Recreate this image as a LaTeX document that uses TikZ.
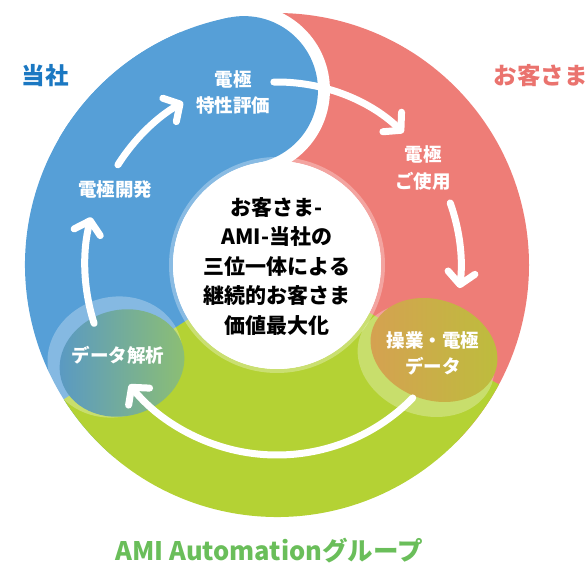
\documentclass[tikz,border=0pt]{standalone}
\usepackage{fontspec}
\newfontfamily\jp{Noto Sans CJK JP}
\usetikzlibrary{arrows.meta,calc}
\definecolor{cblue}{RGB}{86,159,215}
\definecolor{cred}{RGB}{238,125,119}
\definecolor{cgreen}{RGB}{180,210,52}
\definecolor{tblue}{RGB}{27,120,194}
\definecolor{tred}{RGB}{234,115,110}
\definecolor{tgreen}{RGB}{106,190,90}
\definecolor{dleft}{RGB}{88,152,198}
\definecolor{dright}{RGB}{142,192,112}
\definecolor{oleft}{RGB}{214,160,82}
\definecolor{oright}{RGB}{188,190,60}
\begin{document}
\begin{tikzpicture}[x=1pt,y=1pt,
  band/.style={line width=148pt},
  arr/.style={white, line width=7pt, line cap=round, -{Straight Barb[length=12pt,width=27pt,round]}},
  wlabel/.style={text=white, align=center, font=\jp\bfseries\fontsize{18.5}{26.5}\selectfont},
  clabel/.style={align=center, font=\jp\bfseries\fontsize{21}{29.5}\selectfont},
  glabel/.style={font=\jp\bfseries\fontsize{23.5}{28}\selectfont},
]
\useasboundingbox (0,0) rectangle (586,563);
\coordinate (C) at (277,298);
% bands
\draw[cblue, band] (C) ++(100.7:178) arc[start angle=100.7, end angle=230, radius=178];
\draw[cred, band] (C) ++(-45:178) arc[start angle=-45, end angle=100.7, radius=178];
\draw[cgreen, band] (C) ++(212:178) arc[start angle=212, end angle=332, radius=178];
% blue cap with white border over red
\fill[white] (C) ++(100.7:178) circle[radius=86];
\draw[cblue, band] (C) ++(100.7:178) arc[start angle=100.7, end angle=150, radius=178];
\fill[cblue] (C) ++(100.7:178) circle[radius=74];
% centre disc
\fill[white, opacity=0.3] (C) circle[radius=108];
\fill[white] (C) circle[radius=104];
% data analysis ellipse
\fill[white, opacity=0.28, rotate around={15:(115,206)}] (115,206) ellipse[x radius=68, y radius=60];
\shade[left color=dleft, right color=dright, rotate around={15:(122,200)}] (122,200) ellipse[x radius=63, y radius=53];
% operation data ellipse
\fill[white, opacity=0.28, rotate around={-20:(426,203)}] (426,203) ellipse[x radius=70, y radius=55];
\shade[left color=oleft, right color=oright, rotate around={-20:(434,213)}] (434,213) ellipse[x radius=65, y radius=50];
% arrows
\draw[arr] (C) ++(197.7:192) arc[start angle=197.7, end angle=165.6, radius=192];
\draw[arr] (C) ++(147.8:188) arc[start angle=147.8, end angle=120, radius=188];
\draw[arr] (C) ++(91:183) arc[start angle=91, end angle=46.3, radius=183];
\draw[arr] (C) ++(19.7:184) arc[start angle=19.7, end angle=-7.2, radius=184];
\draw[arr] (C) ++(-44.4:190) arc[start angle=-44.4, end angle=-141, radius=190];
% labels
\node[clabel] (centre) at (277,296.5) {お客さま-\\AMI-当社の\\三位一体による\\継続的お客さま\\価値最大化};
\node[wlabel] (eval) at (233,470.5) {電極\\特性評価};
\node[wlabel] (dev) at (115,373) {電極開発};
\node[wlabel] (use) at (423,395) {電極\\ご使用};
\node[wlabel] (ops) at (433,209.5) {操業・電極\\データ};
\node[wlabel] (ana) at (118,208) {データ解析};
\node[glabel, text=tblue] (us) at (45,487) {当社};
\node[glabel, text=tred, anchor=west] (cust) at (490,487) {お客さま};
\node[glabel, text=tgreen, font=\jp\bfseries\fontsize{25.5}{30}\selectfont] (ami) at (269,12) {AMI Automationグループ};
\end{tikzpicture}
\end{document}
